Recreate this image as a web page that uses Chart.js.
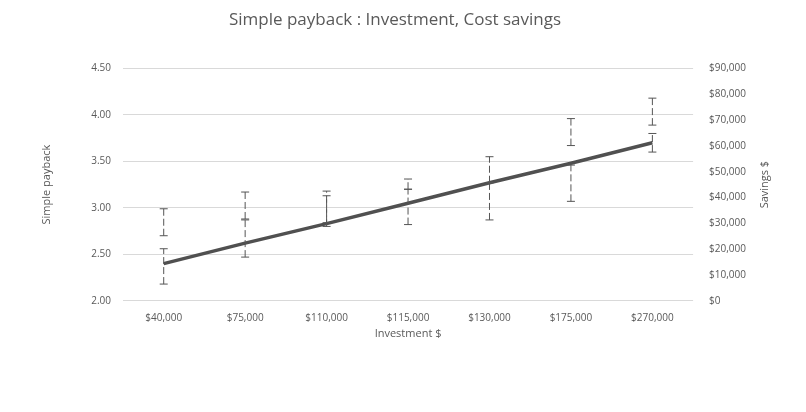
<!DOCTYPE html>
<html>
<head>
<meta charset="utf-8">
<script src="https://cdn.jsdelivr.net/npm/chart.js@4"></script>
<style>
  html, body { margin: 0; padding: 0; background: #fff; }
  #wrap { width: 806px; height: 412px; }
</style>
</head>
<body>
<div id="wrap"><canvas id="chart"></canvas></div>
<script>
const categories = ['$40,000', '$75,000', '$110,000', '$115,000', '$130,000', '$175,000', '$270,000'];
const payback    = [2.40, 2.62, 2.83, 3.05, 3.27, 3.48, 3.70];
// error bar ranges, [low, high] on the payback scale
const errorsA = [[2.70, 2.99], [2.88, 3.17], [2.84, 3.18], [3.20, 3.31], [3.27, 3.55], [3.67, 3.96], [3.89, 4.18]];
const errorsB = [[2.18, 2.56], [2.47, 2.87], [2.80, 3.13], [2.82, 3.20], [2.87, 3.27], [3.07, 3.46], [3.60, 3.80]];
const leftTicks  = [2.0, 2.5, 3.0, 3.5, 4.0, 4.5];

const textColor = '#595959';
const font = { family: 'Open Sans', size: 10 };

const errorBars = {
    id: 'errorBars',
    afterDatasetsDraw(chart) {
        const { ctx, scales: { x, y } } = chart;
        ctx.save();
        ctx.strokeStyle = '#555';
        ctx.lineWidth = 1;
        [errorsA, errorsB].forEach(set => {
            set.forEach((r, i) => {
                const px = x.getPixelForValue(i);
                const lo = y.getPixelForValue(r[0]);
                const hi = y.getPixelForValue(r[1]);
                ctx.setLineDash([7, 3]);
                ctx.beginPath(); ctx.moveTo(px, lo); ctx.lineTo(px, hi); ctx.stroke();
                ctx.setLineDash([]);
                ctx.beginPath();
                ctx.moveTo(px - 4, lo); ctx.lineTo(px + 4, lo);
                ctx.moveTo(px - 4, hi); ctx.lineTo(px + 4, hi);
                ctx.stroke();
            });
        });
        ctx.restore();
    }
};

// right axis title reads bottom-to-top like the left one
const rightTitle = {
    id: 'rightTitle',
    afterDraw(chart) {
        const { ctx, chartArea } = chart;
        ctx.save();
        ctx.translate(765, (chartArea.top + chartArea.bottom) / 2);
        ctx.rotate(-Math.PI / 2);
        ctx.fillStyle = textColor;
        ctx.font = '11px "Open Sans"';
        ctx.textAlign = 'center';
        ctx.textBaseline = 'middle';
        ctx.fillText('Savings $', 0, 0);
        ctx.restore();
    }
};

new Chart(document.getElementById('chart').getContext('2d'), {
    type: 'line',
    data: {
        labels: categories,
        datasets: [{
            label: 'Simple payback',
            data: payback,
            borderColor: '#505050',
            borderWidth: 3.5,
            pointRadius: 0,
            yAxisID: 'y',
        }],
    },
    options: {
        responsive: true,
        maintainAspectRatio: false,
        animation: false,
        layout: { padding: { top: 4, left: 36, right: 52, bottom: 72 } },
        plugins: {
            legend: { display: false },
            tooltip: { enabled: false },
            title: {
                display: true,
                text: 'Simple payback : Investment, Cost savings',
                color: textColor,
                font: { family: 'Open Sans', size: 17, weight: 'normal' },
                padding: { top: 6, bottom: 38 },
            },
        },
        scales: {
            x: {
                offset: true,
                grid: { display: false },
                border: { display: false },
                ticks: { color: textColor, font },
                title: { display: true, text: 'Investment $', color: textColor, font: { family: 'Open Sans', size: 11 }, padding: 0 },
            },
            y: {
                min: 2, max: 4.5,
                afterBuildTicks: axis => { axis.ticks = leftTicks.map(v => ({ value: v })); },
                grid: { color: '#d9d9d9', drawTicks: false },
                border: { display: false },
                ticks: { color: textColor, font, padding: 12, callback: v => v.toFixed(2) },
                title: { display: true, text: 'Simple payback', color: textColor, font: { family: 'Open Sans', size: 11 }, padding: { bottom: 26 } },
            },
            y2: {
                position: 'right',
                min: 0, max: 90000,
                grid: { display: false },
                border: { display: false },
                ticks: { color: textColor, font, stepSize: 10000, padding: 8, callback: v => '$' + v.toLocaleString('en-US') },
            },
        },
    },
    plugins: [errorBars, rightTitle],
});
</script>
</body>
</html>
